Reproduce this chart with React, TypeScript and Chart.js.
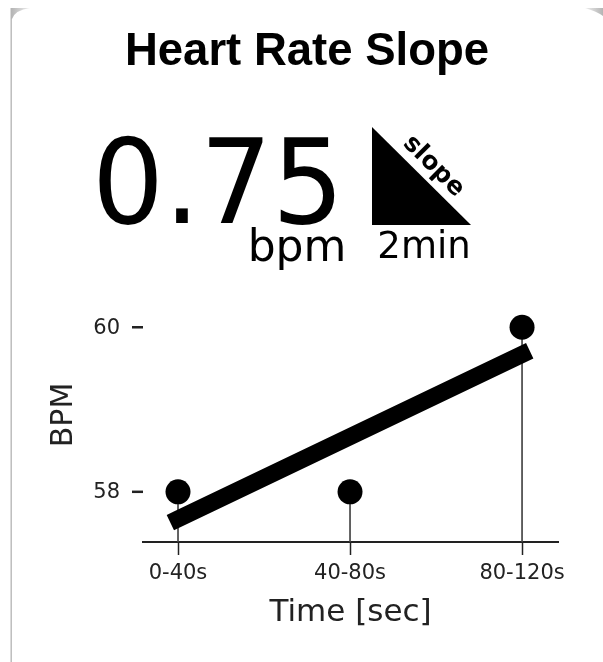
import React, { useEffect, useRef } from "react";
import { Chart, registerables } from "chart.js";

Chart.register(...registerables);

const categories = ["0-40s", "40-80s", "80-120s"];
const positions = [0, 1, 2];
const bpmValues = [58, 58, 60];
const fitX = [0, 2];
const fitY = [57.67, 59.67];
const yTicks = [58, 60];

const SANS = "'DejaVu Sans', sans-serif";
const W = 603;
const H = 662;

function Label(props: { text: string; left: number; top: number; size: number; font?: string; weight?: number; rotate?: number; scaleX?: number }) {
  const { text, left, top, size, font = SANS, weight = 400, rotate = 0, scaleX = 1 } = props;
  return (
    <div
      style={{
        position: "absolute",
        left,
        top,
        transform: `translate(-50%, -50%) rotate(${rotate}deg) scaleX(${scaleX})`,
        fontFamily: font,
        fontSize: size,
        fontWeight: weight,
        lineHeight: 1,
        color: "#000",
        whiteSpace: "nowrap",
      }}
    >
      {text}
    </div>
  );
}

export default function App() {
  const ref = useRef<HTMLCanvasElement>(null);

  useEffect(() => {
    document.body.style.margin = "0";
    const chart = new Chart(ref.current!, {
      type: "scatter",
      data: {
        datasets: [
          {
            type: "line",
            label: "fit",
            data: fitX.map((x, i) => ({ x, y: fitY[i] })),
            borderColor: "#000",
            borderWidth: 17,
            borderCapStyle: "square",
            pointRadius: 0,
            order: 1,
          },
          {
            type: "scatter",
            label: "BPM",
            data: positions.map((x, i) => ({ x, y: bpmValues[i] })),
            backgroundColor: "#000",
            borderColor: "#000",
            pointRadius: 12.5,
            pointBorderWidth: 0,
            order: 2,
          },
          {
            type: "bar",
            label: "stems",
            data: positions.map((x, i) => ({ x, y: bpmValues[i] })),
            backgroundColor: "#444",
            barThickness: 1,
            order: 3,
          },
        ],
      },
      options: {
        responsive: false,
        animation: false,
        layout: { padding: { left: 143, right: 45, top: 310, bottom: 30 } },
        plugins: { legend: { display: false }, tooltip: { enabled: false } },
        scales: {
          x: {
            type: "linear",
            offset: false,
            min: -0.2035,
            max: 2.209,
            afterBuildTicks: (axis) => {
              axis.ticks = positions.map((value) => ({ value }));
            },
            afterFit: (axis) => {
              axis.height = 90;
            },
            ticks: {
              color: "#222",
              font: { family: SANS, size: 21 },
              padding: 6,
              maxRotation: 0,
              callback: (v) => categories[Number(v)],
            },
            grid: { display: true, offset: false, drawOnChartArea: false, drawTicks: true, tickLength: 13, tickColor: "#222", tickWidth: 1.5 },
            border: { display: true, color: "#222", width: 2 },
            title: {
              display: true,
              text: "Time [sec]",
              color: "#222",
              font: { family: SANS, size: 31 },
              padding: { top: 2, bottom: 0 },
            },
          },
          y: {
            min: 57.39,
            max: 60.21,
            afterBuildTicks: (axis) => {
              axis.ticks = yTicks.map((value) => ({ value }));
            },
            afterFit: (axis) => {
              axis.width = 0;
            },
            ticks: { display: false },
            grid: { display: false },
            border: { display: false },
          },
        },
      },
      plugins: [
        {
          id: "detachedYAxis",
          afterDraw(c) {
            const g = c.ctx;
            const y = c.scales.y;
            const left = c.chartArea.left;
            g.save();
            g.fillStyle = g.strokeStyle = "#222";
            g.font = `21px ${SANS}`;
            g.textAlign = "right";
            g.textBaseline = "middle";
            g.lineWidth = 2.5;
            for (const v of yTicks) {
              const p = y.getPixelForValue(v);
              g.beginPath();
              g.moveTo(left - 11, p);
              g.lineTo(left, p);
              g.stroke();
              g.fillText(String(v), left - 23, p + 1);
            }
            g.font = `30px ${SANS}`;
            g.textAlign = "center";
            g.translate(64, (y.top + y.bottom) / 2 - 11);
            g.rotate(-Math.PI / 2);
            g.fillText("BPM", 0, 0);
            g.restore();
          },
        },
      ],
    });
    return () => chart.destroy();
  }, []);

  return (
    <div style={{ position: "relative", width: W, height: H, background: "#fff", overflow: "hidden" }}>
      <canvas ref={ref} width={W} height={H} style={{ position: "absolute", left: 0, top: 0, display: "block" }} />
      <svg style={{ position: "absolute", left: 0, top: 0 }} width={W} height={H}>
        <defs>
          <linearGradient id="wedgeL" x1="0" x2="1" y1="0" y2="0">
            <stop offset="0" stopColor="#b4b4b4" />
            <stop offset="1" stopColor="#eeeeee" />
          </linearGradient>
          <linearGradient id="wedgeR" x1="1" x2="0" y1="0" y2="0">
            <stop offset="0" stopColor="#b4b4b4" />
            <stop offset="1" stopColor="#eeeeee" />
          </linearGradient>
        </defs>
        <rect x={10.5} y={8} width={1.4} height={654} fill="#b8b8b8" />
        <path d="M11,8 L30,8 Q15,10 12,19 L11,19 Z" fill="url(#wedgeL)" />
        <path d="M585,8 L603,8 L603,16 Q596,11 585,8 Z" fill="url(#wedgeR)" />
        <polygon points="372,127 471,225 372,225" fill="#000" />
      </svg>
      <Label text="Heart Rate Slope" left={307} top={50} size={45.5} weight={700} font="'Liberation Sans', sans-serif" />
      <Label text="0.75" left={218} top={182} size={118} scaleX={0.96} />
      <Label text="bpm" left={297} top={246} size={44} />
      <Label text="2min" left={424} top={245} size={37} />
      <Label text="slope" left={435} top={165} size={25} weight={700} rotate={45} />
    </div>
  );
}
